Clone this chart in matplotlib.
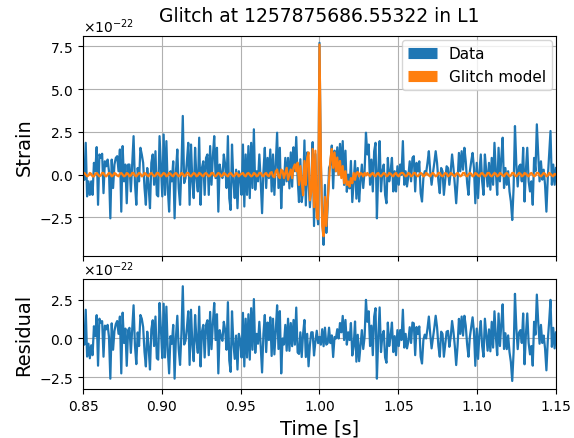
import numpy as np
import matplotlib.pyplot as plt
from matplotlib.ticker import MultipleLocator

# strain values, in units of 1e-22, evenly spaced over 0.85 .. 1.15 s
strain = [
    # 0.85 - 0.95
    0.39, -0.3, 1.86, -1.27, -0.39, -1.18, -0.39, -1.18, 0.69, 0.2,
    1.61, -1.76, 1.18, 0.98, 1.22, -1.08, 0.78, 0.49, 0.88, 0.2,
    -2.55, 0.88, -0.78, 0.59, 0.98, 1.08, 0.2, 1.47, -2.16, 1.67,
    -0.39, 0.59, -1.67, 0.59, 0.59, -0.98, 0.69, 2.25, -0.49, -1.76,
    0.39, -0.39, 1.57, 1.18, 0.69, -0.78, -1.76, 0.39, -0.69, -1.96,
    0.69, 1.18, -0.59, 1.37, -1.18, -1.27, 2.25, 0.5, -1.27, 2.35,
    -1.18, 1.96, -0.78, -2.16, 0.2, -0.39, 0.78, -2.55, 0.2, 1.47,
    -0.78, -1.76, 0.39, 3.43, -0.49, -0.2, 0.78, 1.86, -1.76, 1.76,
    -0.39, -1.37, 1.57, -0.2, -0.98, 2.16, -1.76, 0.39, 0.78, -1.18,
    0.98, 1.18, -1.18, 1.67, -0.59, 1.08, 2.25, -0.2, 1.57, -2.16,
    0.59, 0.0, -0.2, 1.18, 0.59, -0.78, 2.25, -1.37, -2.06, 1.76,
    -0.39, -1.37, 0.29, -1.96, 0.2, -0.1,
    # 0.95 - 0.98
    -1.18, 1.76, -1.86, 1.18, -1.18, 1.67, -1.37, 1.86, -0.78, 2.65,
    -0.88, 0.2, -0.39, 1.18, -0.39, -2.25, 0.2, 1.57, -0.78, 0.98,
    -0.2, 1.47, -0.98, 1.18, -1.18, 0.69, 2.45, -0.78, 1.57, -1.96,
    0.2, -0.59, 0.98, -0.39, 0.98,
    # glitch
    -0.8, 1.3, -0.7, 1.6, 0.2, 2.2, -0.2, -1.6, 0.9, -1.6,
    -0.9, 2.0, -1.8, 1.3, -0.5, -1.9, -0.6, 1.9, -3.0, 1.2,
    -2.0, -2.9, 7.7, 0.6, -2.4, -4.1, -0.6, -3.4,
    # ring-down
    -1.8, 0.4, 0.6, 1.7, -0.8, 1.4, 0.2, 1.6, 0.0, 1.8,
    0.2, 1.96, -0.6, 1.4, -1.0, 0.0, -0.8, 0.8, -1.6, -0.4,
    0.8, -1.4,
    0.39, -1.57, -0.39, 0.59, -0.78, 0.2, 2.45, 1.18, 1.76, -0.59,
    0.88, -0.98, 1.37, 1.86, -2.55, 0.2, 1.96, -0.98, 0.2, 0.59,
    -1.18, -1.67, 0.98, -0.39, 0.2, 0.98, -0.98, 0.2, -0.98, 0.49,
    -0.59, 0.59, 0.0,
    # 1.05 - 1.15
    1.96, -0.59, 0.2, -0.69, -0.1, 0.78, -0.39, 0.98, 1.08, -0.98,
    0.69, 0.2, 0.78, -1.08, -1.57, -0.2, 0.2, 0.1, 0.69, 1.37,
    0.2, -0.59, 0.1, 0.69, 1.37, 0.69, -0.39, -1.08, 0.39, 0.2,
    -1.18, -0.29, 0.49, 0.39, -0.59, 0.2, 1.18, 0.39, -0.59, -1.67,
    -0.39, 1.27, 0.2, 1.37, 0.29, 1.57, 0.78, -0.49, -1.18, 0.2,
    0.78, 1.27, 0.39, -1.67, 0.69, -1.37, 0.2, 1.18, -0.39, -1.18,
    1.18, 0.2, -0.69, 0.69, -0.88, 0.98, -0.59, 1.86, 0.2, -1.18,
    1.57, -0.39, 0.98, 2.16, -0.78, 0.39, -0.59, 0.2, -0.98, -1.57,
    -2.65, -0.78, 2.84, 0.59, -0.69, 0.49, 0.59, -0.39, 1.57, -1.57,
    0.29, 1.57, -0.39, -0.98, -0.39, -1.76, 0.98, 0.2, 2.94, 1.18,
    -0.39, 0.78, -0.29, 0.29, -0.59, -2.16, -0.2, 1.18, 2.55, -0.59,
    0.59, -0.59, 0.39,
]

glitch_model = [
    # 0.85 - 0.95
    0.05, 0.1, 0.0, -0.1, -0.05, 0.1, 0.05, -0.1, -0.1, 0.05,
    0.1, 0.0, -0.1, -0.05, 0.1, 0.1, -0.05, -0.1, 0.0, 0.1,
    0.05, -0.1, -0.05, 0.1, 0.05, -0.05, -0.1, 0.05, 0.1, 0.0,
    -0.1, -0.05, 0.1, 0.05, -0.1, -0.05, 0.1, 0.1, -0.05, -0.1,
    0.0, 0.1, 0.05, -0.1, -0.05, 0.1, 0.05, -0.05, -0.1, 0.05,
    0.1, 0.0, -0.1, -0.05, 0.1, 0.1, -0.05, -0.1, 0.0, 0.1,
    0.05, -0.1, -0.05, 0.1, 0.05, -0.05, -0.1, 0.05, 0.1, 0.0,
    -0.1, -0.05, 0.1, 0.05, -0.1, -0.05, 0.1, 0.1, -0.05, -0.1,
    0.0, 0.1, 0.05, -0.1, -0.05, 0.1, 0.05, -0.05, -0.1, 0.05,
    0.1, 0.0, -0.1, -0.05, 0.1, 0.1, -0.05, -0.1, 0.0, 0.1,
    0.05, -0.1, -0.05, 0.1, 0.05, -0.05, -0.1, 0.05, 0.1, 0.0,
    -0.1, -0.05, 0.1, 0.05, -0.1, 0.0,
    # 0.95 - 0.98
    0.05, 0.1, -0.05, -0.1, 0.05, 0.1, 0.0, -0.1, -0.05, 0.1,
    0.05, -0.1, -0.05, 0.1, 0.1, -0.05, -0.1, 0.05, 0.1, -0.05,
    -0.1, 0.1, 0.15, -0.1, -0.15, 0.2, 0.3, -0.1, -0.2, 0.3,
    0.2, -0.2, 0.1, 0.4, -0.3,
    # glitch
    0.0, 0.3, -0.2, 0.4, 0.6, 0.2, 0.7, -0.6, 0.5, -0.4,
    -1.2, 0.8, -0.6, 1.0, 1.3, -1.5, -1.0, 1.5, -1.9, 1.4,
    -2.5, -2.6, 7.6, 1.0, -3.0, -3.6, -1.3, -3.0,
    # ring-down
    -1.5, -0.3, 0.9, 1.5, 0.4, 1.3, 0.2, 1.0, 0.0, 0.8,
    -0.2, 0.5, -0.5, 0.2, -0.6, -0.4, -0.7, -0.2, -0.5, 0.1,
    -0.3, 0.1,
    0.15, -0.1, 0.1, 0.05, -0.1, 0.1, -0.05, 0.1, 0.0, -0.1,
    0.05, 0.1, -0.05, -0.1, 0.05, 0.1, -0.05, -0.1, 0.0, 0.1,
    0.05, -0.1, -0.05, 0.1, 0.05, -0.05, -0.1, 0.05, 0.1, -0.05,
    -0.1, 0.05, 0.1,
    # 1.05 - 1.15
    0.1, 0.0, -0.1, -0.05, 0.1, 0.05, -0.1, -0.05, 0.1, 0.1,
    -0.05, -0.1, 0.0, 0.1, 0.05, -0.1, -0.05, 0.1, 0.05, -0.05,
    -0.1, 0.05, 0.1, 0.0, -0.1, -0.05, 0.1, 0.1, -0.05, -0.1,
    0.0, 0.1, 0.05, -0.1, -0.05, 0.1, 0.05, -0.05, -0.1, 0.05,
    0.1, 0.0, -0.1, -0.05, 0.1, 0.1, -0.05, -0.1, 0.0, 0.1,
    0.05, -0.1, -0.05, 0.1, 0.05, -0.05, -0.1, 0.05, 0.1, 0.0,
    -0.1, -0.05, 0.1, 0.1, -0.05, -0.1, 0.0, 0.1, 0.05, -0.1,
    -0.05, 0.1, 0.05, -0.05, -0.1, 0.05, 0.1, 0.0, -0.1, -0.05,
    0.1, 0.1, -0.05, -0.1, 0.0, 0.1, 0.05, -0.1, -0.05, 0.1,
    0.05, -0.05, -0.1, 0.05, 0.1, 0.0, -0.1, -0.05, 0.1, 0.1,
    -0.05, -0.1, 0.0, 0.1, 0.05, -0.1, -0.05, 0.1, 0.05, -0.05,
    -0.1, 0.05, 0.0,
]

t_start, t_end = 0.85, 1.15
time = np.linspace(t_start, t_end, len(strain))
data = np.array(strain) * 1e-22
model = np.array(glitch_model) * 1e-22
residual = data - model

fig = plt.figure(figsize=(5.74, 4.39), dpi=100)
ax1 = fig.add_axes([0.1446, 0.4146, 0.824, 0.50])
ax2 = fig.add_axes([0.1446, 0.1116, 0.824, 0.2506], sharex=ax1)

ax1.plot(time, data, color='C0', lw=1.6, label='Data')
ax1.plot(time, model, color='C1', lw=1.6, label='Glitch model')
ax2.plot(time, residual, color='C0', lw=1.6)

ax1.set_xlim(t_start, t_end)
ax1.set_ylim(-4.75e-22, 8.07e-22)
ax2.set_ylim(-3.27e-22, 3.85e-22)
ax2.xaxis.set_major_locator(MultipleLocator(0.05))
for ax in (ax1, ax2):
    ax.yaxis.set_major_locator(MultipleLocator(2.5e-22))
    ax.ticklabel_format(axis='y', style='sci', scilimits=(0, 0), useMathText=True)
    ax.grid(True)
    ax.tick_params(labelsize=10)
ax1.tick_params(labelbottom=False)

ax1.set_title('Glitch at 1257875686.55322 in L1', fontsize=13.5, pad=11)
ax1.set_ylabel('Strain', fontsize=14)
ax2.set_ylabel('Residual', fontsize=14)
ax2.set_xlabel('Time [s]', fontsize=14)

leg = ax1.legend(loc='upper right', fontsize=11, handlelength=1.9,
                 borderaxespad=0.25)
for line in leg.get_lines():
    line.set_linewidth(8)
    line.set_solid_capstyle('butt')

fig.savefig('out.png', dpi=100)
